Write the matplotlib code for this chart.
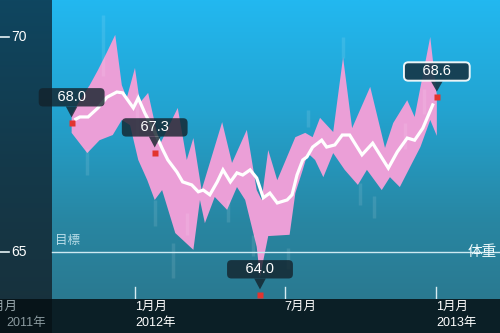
import matplotlib
matplotlib.use("Agg")
import matplotlib.pyplot as plt
import numpy as np
from matplotlib.colors import LinearSegmentedColormap
from matplotlib.patches import Rectangle

plt.rcParams['font.family'] = ['Liberation Sans', 'Noto Sans CJK JP', 'DejaVu Sans']

# x = days since 2012-01-01, y = kg
trend_day = [-72, -67, -57, -45, -34, -22, -15, -2, 4, 12,
             24, 34, 40, 51, 58, 69, 77, 83, 91, 100,
             107, 116, 124, 131, 140, 148, 156, 164, 173, 185,
             191, 197, 204, 209, 216, 227, 233, 243, 252, 261,
             276, 289, 308, 319, 331, 340, 350, 362]
trend_kg = [68.09, 68.14, 68.14, 68.35, 68.60, 68.72, 68.70, 68.35, 68.58, 68.23,
            67.79, 67.37, 67.14, 66.86, 66.63, 66.56, 66.40, 66.44, 66.33, 66.63,
            66.91, 66.63, 66.84, 66.79, 66.91, 66.72, 66.26, 66.37, 66.14, 66.21,
            66.33, 66.79, 67.14, 67.21, 67.44, 67.60, 67.44, 67.49, 67.72, 67.72,
            67.26, 67.53, 66.95, 67.33, 67.65, 67.60, 67.88, 68.42]

# max / min envelope of daily weights
upper_day = [-77, -67, -55, -45, -34, -24, -16, -10, 0, 6, 16, 30, 52, 63, 71, 81,
             106, 118, 136, 148, 154, 162, 173, 195, 207, 216, 225, 241, 253, 264,
             286, 304, 314, 331, 340, 359, 367]
upper_kg = [68.19, 68.53, 68.88, 69.23, 69.65, 70.05, 68.88, 68.58, 69.28, 68.47,
            68.70, 67.49, 68.35, 67.14, 67.65, 66.44, 68.02, 67.07, 67.84, 66.44,
            66.21, 67.37, 66.67, 67.67, 67.77, 67.67, 68.12, 67.79, 69.53, 67.88,
            68.84, 67.42, 68.00, 68.53, 68.14, 70.00, 68.65]
lower_day = [-77, -58, -43, -27, -16, -6, 4, 15, 24, 33, 49, 71, 79, 85, 97, 112,
             124, 134, 148, 152, 162, 188, 195, 204, 210, 219, 229, 241, 255, 271,
             282, 300, 310, 322, 337, 347, 359, 367]
lower_kg = [67.77, 67.30, 67.60, 67.72, 68.07, 67.95, 67.14, 66.67, 66.21, 66.44,
            65.44, 65.05, 66.21, 65.67, 66.28, 65.98, 66.51, 66.21, 65.12, 64.42,
            65.37, 65.40, 66.37, 66.91, 67.30, 67.14, 66.74, 67.30, 66.91, 66.56,
            66.91, 66.44, 66.74, 66.51, 67.07, 67.44, 68.07, 67.70]

# faint per-day spread streaks
streak_day = [-39, 2, -58, 16, 24, 46, 63, 186, 210, 253, 273, 291, 328, 351, 143, 113]
streak_lo = [69.10, 67.70, 66.80, 67.80, 65.60, 64.40, 65.40, 64.60, 67.90, 69.50,
             66.10, 65.80, 67.40, 68.20, 64.90, 65.70]
streak_hi = [70.50, 68.70, 67.40, 68.30, 66.20, 65.20, 65.90, 65.10, 68.30, 70.00,
             66.60, 66.30, 68.00, 68.80, 65.40, 66.20]

callout_day = [-77, 24, 152, 367]
callout_kg = [68.0, 67.3, 64.0, 68.6]
callout_text = ['68.0', '67.3', '64.0', '68.6']

goal_kg = 65
ytick_kg = [70, 65]
month_day = [-182, 0, 182, 366]
month_text = ['7月月', '1月月', '7月月', '1月月']

fig = plt.figure(figsize=(5, 3.33), dpi=100)
ax = fig.add_axes([0, 0, 1, 1])
ax.set_xlim(-164.1, 443.8)
ax.set_ylim(63.116, 70.86)
ax.axis('off')

# background gradient (top bright cyan -> bottom teal)
bg = LinearSegmentedColormap.from_list('bg', ['#22b8f0', '#23a3d0', '#2886a2', '#2b7489'])
grad = np.linspace(0, 1, 256).reshape(-1, 1)
ax.imshow(grad, cmap=bg, extent=[0, 1, 0, 1], transform=ax.transAxes,
          aspect='auto', zorder=0)
# left (previous period) panel
panel = LinearSegmentedColormap.from_list('pn', ['#0f4660', '#14394a', '#18303a'])
ax.imshow(grad, cmap=panel, extent=[0, 0.104, 0, 1], transform=ax.transAxes,
          aspect='auto', zorder=0.5)
# bottom bar
ax.add_patch(Rectangle((0, 0), 1, 0.102, transform=ax.transAxes,
                       fc='#0b1f26', ec='none', zorder=5))
ax.add_patch(Rectangle((0, 0), 0.104, 0.102, transform=ax.transAxes,
                       fc='#071419', ec='none', zorder=5.1))

# band
band_x = upper_day + lower_day[::-1]
band_y = upper_kg + lower_kg[::-1]
ax.fill(band_x, band_y, color='#eb9fd7', ec='none', zorder=2)
ax.vlines(streak_day, streak_lo, streak_hi, colors='white', alpha=0.1, lw=2.5, zorder=2.5)

# goal line
yt = ax.get_yaxis_transform()
ax.axhline(goal_kg, xmin=0.104, xmax=1, color='#cdeaf2', lw=1, zorder=3)
ax.text(0.11, goal_kg + 0.26, '目標', transform=yt, color='#b8dde8', fontsize=9,
        va='center', ha='left', zorder=3)
ax.text(0.993, goal_kg, '体重', transform=yt, color='#f2fbfd', fontsize=10.5,
        va='center', ha='right', zorder=3)

# y ticks
for v in ytick_kg:
    ax.plot([0, 0.017], [v, v], color='#e6f2f5', lw=1.2, transform=yt, zorder=3)
    ax.text(0.022, v, str(v), transform=yt, color='white', fontsize=10,
            va='center', ha='left', zorder=3)

# trend
ax.plot(trend_day, trend_kg, color='white', lw=2.3, solid_joinstyle='miter', zorder=4)

# callouts
for i, (d, v, t) in enumerate(zip(callout_day, callout_kg, callout_text)):
    ax.plot(d, v, marker='s', ms=4.5, color='#e2342f', mec='none', zorder=5)
    last = i == len(callout_day) - 1
    fc = '#16384a' if last else '#13222b'
    ax.annotate('    ' + t + '    ', xy=(d, v), xytext=(0, 18.5), textcoords='offset points',
                ha='center', va='center', color='white', fontsize=10.5, zorder=6,
                bbox=dict(boxstyle='round,pad=0.15,rounding_size=0.3', fc=fc,
                          ec='white' if last else 'none', lw=1.4,
                          alpha=0.92 if last else 0.8),
                arrowprops=dict(arrowstyle='wedge,tail_width=0.8,shrink_factor=0.5',
                                fc=fc, ec='none', alpha=0.92 if last else 0.8,
                                shrinkA=0, shrinkB=4))

# x ticks and labels
xt = ax.get_xaxis_transform()
for d, t in zip(month_day, month_text):
    ax.axvline(d, ymin=0.102, ymax=0.138, color='#d7ecf2', lw=1, zorder=3)
    col = '#9aa9ae' if d < -100 else 'white'
    ax.text(d, 0.077, t, transform=xt, color=col, fontsize=9, va='center', ha='left', zorder=6)
ax.text(0, 0.029, '2012年', transform=xt, color='white', fontsize=9, va='center', ha='left', zorder=6)
ax.text(366, 0.029, '2013年', transform=xt, color='white', fontsize=9, va='center', ha='left', zorder=6)
ax.text(0.012, 0.029, '2011年', transform=ax.transAxes, color='#8a999e', fontsize=9,
        va='center', ha='left', zorder=6)

fig.savefig('out.png', dpi=100)
